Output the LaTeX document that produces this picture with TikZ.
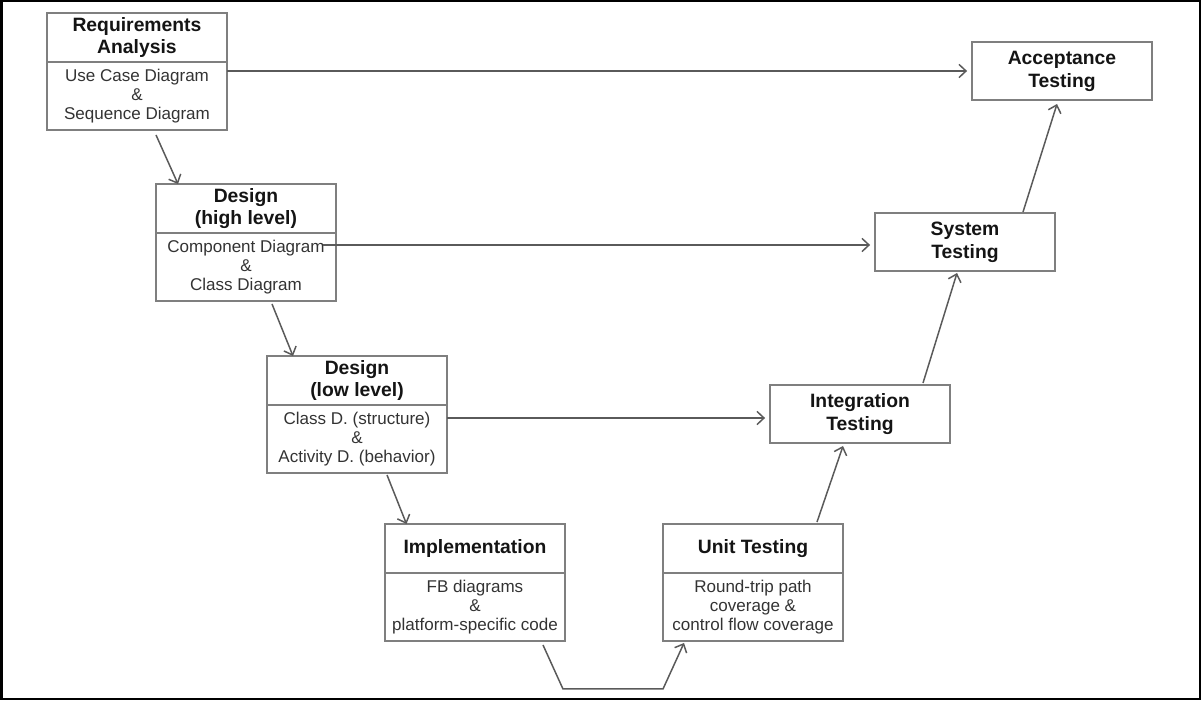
\documentclass[tikz,border=0pt]{standalone}
\usepackage{fontspec}
\setmainfont{Liberation Sans}
\usetikzlibrary{calc,arrows.meta}

\definecolor{boxline}{HTML}{7F7F7F}
\definecolor{connline}{HTML}{5A5A5A}
\definecolor{titletext}{HTML}{141414}
\definecolor{bodytext}{HTML}{333333}

\tikzset{
  part/.style={draw=boxline, line width=0.8pt, minimum width=3.6cm,
    inner sep=0pt, outer sep=0pt, align=center, anchor=north west},
  titlepart/.style={part, minimum height=0.98cm, text=titletext,
    font=\fontsize{11}{13}\selectfont\bfseries},
  bodypart/.style={part, minimum height=1.36cm, text=bodytext,
    font=\fontsize{9.7}{11}\selectfont},
  testbox/.style={part, minimum height=1.16cm, text=titletext,
    font=\fontsize{11}{13}\selectfont\bfseries},
  conn/.style={draw=connline, line width=0.85pt,
    -{Straight Barb[length=4pt,width=7.5pt]}},
  frame/.style={draw=black, line width=1.15pt},
}

\begin{document}
\begin{tikzpicture}[x=0.02cm, y=-0.02cm]
  \useasboundingbox (0,0) rectangle (1202,700);
  \draw[frame] (1.5,1) rectangle (1200,699);

  % development side (left leg of the V)
  \node[titlepart] (reqT) at (47,13)  {Requirements\\Analysis};
  \node[bodypart]  (reqB) at (reqT.south west) {Use Case Diagram\\\&\\Sequence Diagram};

  \node[titlepart] (dhT) at (156,184) {Design\\(high level)};
  \node[bodypart]  (dhB) at (dhT.south west) {Component Diagram\\\&\\Class Diagram};

  \node[titlepart] (dlT) at (267,356) {Design\\(low level)};
  \node[bodypart]  (dlB) at (dlT.south west) {Class D. (structure)\\\&\\Activity D. (behavior)};

  \node[titlepart] (implT) at (385,524) {Implementation};
  \node[bodypart]  (implB) at (implT.south west) {FB diagrams\\\&\\platform-specific code};

  % testing side (right leg of the V)
  \node[titlepart] (unitT) at (663,524) {Unit Testing};
  \node[bodypart]  (unitB) at (unitT.south west) {Round-trip path\\coverage \&\\control flow coverage};

  \node[testbox] (integ)  at (770,385) {Integration\\Testing};
  \node[testbox] (system) at (875,213) {System\\Testing};
  \node[testbox] (accept) at (972,42)  {Acceptance\\Testing};

  % descending connectors
  \draw[conn] ($(reqB.south west)+(109,5)$) -- ($(dhT.north west)+(22,0)$);
  \draw[conn] ($(dhB.south west)+(116,3)$) -- ($(dlT.north west)+(26,0)$);
  \draw[conn] ($(dlB.south west)+(120,2)$) -- ($(implT.north west)+(21.5,0)$);

  % bottom of the V
  \coordinate (vL) at ($(implB.south east)+(-2,48)$);
  \coordinate (vR) at ($(unitB.south west)+(0,48)$);
  \draw[conn] ($(implB.south west)+(158,4)$) -- (vL) -- (vR)
    -- ($(unitB.south west)+(21,2)$);

  % ascending connectors
  \draw[conn] ($(unitT.north west)+(154,-2)$) -- ($(integ.south west)+(73,3)$);
  \draw[conn] ($(integ.north west)+(153,-2)$) -- ($(system.south west)+(82,2)$);
  \draw[conn] ($(system.north west)+(148,-1)$) -- ($(accept.south west)+(85,4)$);

  % verification links across the V
  \coordinate (h1) at ($(reqB.north east)+(0,9)$);
  \draw[conn, shorten >=2.8pt] (h1) -- (h1 -| accept.west);
  \coordinate (h2) at ($(dhB.north east)+(-13,12)$);
  \draw[conn, shorten >=2.8pt] (h2) -- (h2 -| system.west);
  \coordinate (h3) at ($(dlB.north east)+(0,13)$);
  \draw[conn, shorten >=2.8pt] (h3) -- (h3 -| integ.west);
\end{tikzpicture}
\end{document}
